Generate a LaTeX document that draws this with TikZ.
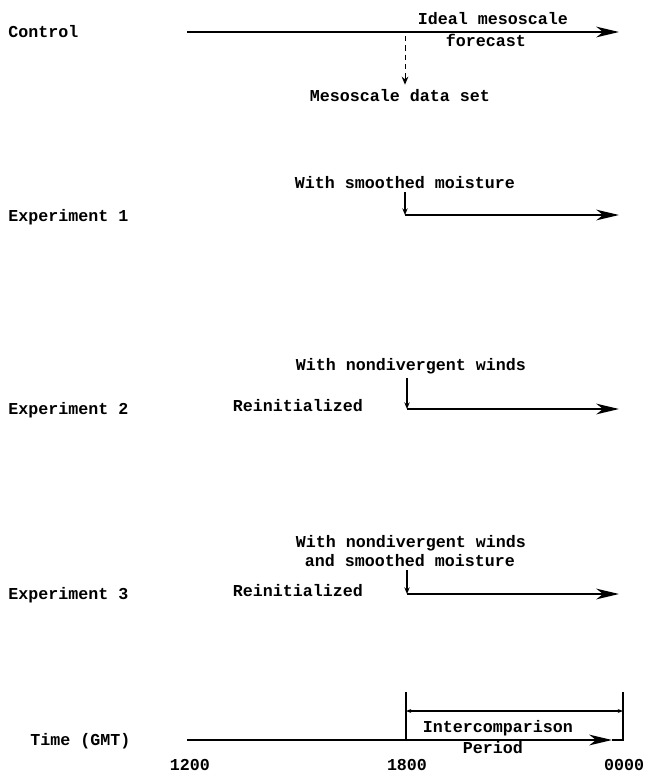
\documentclass[tikz,border=0pt]{standalone}
\usepackage{fontspec}
\setmonofont{Liberation Mono}
\usetikzlibrary{arrows.meta}
\newcommand{\tfont}{\fontsize{12.5}{15}\selectfont\ttfamily\bfseries}
\tikzset{lbl/.style={font=\tfont, inner sep=0pt, anchor=base}}
\tikzset{rowlbl/.style={lbl, anchor=base west}}
\tikzset{run/.style={line width=1.6pt, -{Stealth[length=17pt, width=8pt, inset=5pt]}}}
\tikzset{drop/.style={line width=1pt, -{Stealth[length=5pt, width=4pt]}}}
\tikzset{feed/.style={line width=0.7pt, dash pattern=on 4pt off 3pt, -{Stealth[length=6pt, width=5pt]}}}
\tikzset{bar/.style={line width=1.2pt}}
\tikzset{span/.style={line width=1pt, {Stealth[length=4pt, width=3pt]}-{Stealth[length=4pt, width=3pt]}}}

\begin{document}
\begin{tikzpicture}[x=0.75pt, y=-0.75pt]
\useasboundingbox (0,0) rectangle (645,779);

% control run
\node[rowlbl] (ctrl) at (8,37) {Control};
\coordinate (c0) at (187,32); \coordinate (c1) at (619,32);
\coordinate (cm) at (405,32);
\draw[run] (c0) -- (c1);
\node[lbl] (ideal) at (493,24) {Ideal mesoscale};
\node[lbl] (fcst) at (486,46) {forecast};
\node[lbl] (mds) at (400,101) {Mesoscale data set};
\draw[feed] ([yshift=-3pt]cm) -- ([yshift=3pt]cm |- mds.north);

% experiment 1
\node[rowlbl] (exp1) at (8,221) {Experiment 1};
\node[lbl] (wsm) at (405,188) {With smoothed moisture};
\coordinate (e1s) at (405,215); \coordinate (e1e) at (619,215);
\draw[run] (e1s) -- (e1e);
\draw[drop] ([yshift=-3pt]e1s |- wsm.south) -- (e1s);

% experiment 2
\node[rowlbl] (exp2) at (8,414) {Experiment 2};
\node[lbl] (re2) at (298,411) {Reinitialized};
\node[lbl] (wnw) at (411,370) {With nondivergent winds};
\coordinate (e2s) at (407,409); \coordinate (e2e) at (619,409);
\draw[run] (e2s) -- (e2e);
\draw[drop] ([yshift=-3pt]e2s |- wnw.south) -- (e2s);

% experiment 3
\node[rowlbl] (exp3) at (8,599) {Experiment 3};
\node[lbl] (re3) at (298,596) {Reinitialized};
\node[lbl] (wnw3) at (411,547) {With nondivergent winds};
\node[lbl] (asm) at (410,566) {and smoothed moisture};
\coordinate (e3s) at (407,594); \coordinate (e3e) at (619,594);
\draw[run] (e3s) -- (e3e);
\draw[drop] ([yshift=-3pt]e3s |- asm.south) -- (e3s);

% time axis
\node[rowlbl] (time) at (30,745) {Time (GMT)};
\coordinate (t0) at (187,740); \coordinate (t1) at (612,740);
\draw[run] (t0) -- (t1);
\coordinate (b0) at (406,692); \coordinate (b1) at (623,692);
\coordinate (br) at (0,711);
\draw[bar] (b0) -- (b0 |- t0);
\draw[bar] (b1) -- (b1 |- t0) -- (t1);
\draw[span] (b0 |- br) -- (b1 |- br);
\node[lbl] (icp) at (498,732) {Intercomparison};
\node[lbl] (per) at (493,753) {Period};
\node[lbl] (h12) at (190,770) {1200};
\node[lbl] (h18) at (407,770) {1800};
\node[lbl] (h00) at (624,770) {0000};

\end{tikzpicture}
\end{document}
